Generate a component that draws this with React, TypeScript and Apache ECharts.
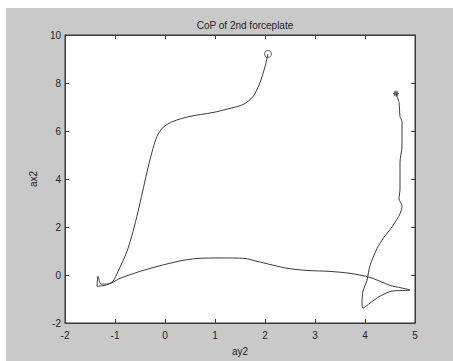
import React, { useEffect, useRef } from "react";
import * as echarts from "echarts";

const titleText = "CoP of 2nd forceplate";
const xName = "ay2";
const yName = "ax2";

const xs = [
  2.06, 2.0, 1.9, 1.76, 1.56, 1.3, 0.96, 0.5, 0.16, -0.04, -0.16, -0.26, -0.36, -0.45, -0.54, -0.64,
  -0.76, -0.94, -1.04, -1.2, -1.36, -1.34, -1.28, -1.14, -0.9, -0.44, 0.0, 0.36, 0.64, 1.1, 1.6,
  1.84, 2.44, 2.84, 3.3, 3.7, 4.1, 4.5, 4.9, 4.54, 4.3, 4.1, 3.96, 3.94, 3.96, 4.04, 4.1, 4.24,
  4.36, 4.56, 4.7, 4.74, 4.68, 4.7, 4.7, 4.74, 4.74, 4.7, 4.68, 4.62,
];
const ys = [
  9.21, 8.68, 8.01, 7.43, 7.1, 6.94, 6.77, 6.61, 6.4, 6.15, 5.78, 5.12, 4.29, 3.46, 2.64, 1.81,
  0.98, 0.15, -0.26, -0.43, -0.47, -0.05, -0.38, -0.38, -0.14, 0.19, 0.44, 0.61, 0.69, 0.71, 0.69,
  0.57, 0.28, 0.19, 0.15, 0.07, -0.1, -0.43, -0.63, -0.67, -0.88, -1.17, -1.38, -1.17, -0.67, -0.22,
  0.4, 1.1, 1.52, 2.06, 2.55, 2.88, 3.17, 3.59, 4.7, 5.37, 6.4, 6.61, 7.19, 7.56,
];
const xRange = [-2, 5];
const yRange = [-2, 10];

const FONT = "'Liberation Sans', Arial, sans-serif";
const AXIS = "#3a3a3a";
const TEXT = "#222";
const LINE = "#3a3a3a";

export default function App() {
  const ref = useRef<HTMLDivElement>(null);
  useEffect(() => {
    document.body.style.margin = "0";
    if (!ref.current) return;
    const chart = echarts.init(ref.current, undefined, { renderer: "svg" });
    const pts = xs.map((x, i) => [x, ys[i]]);
    const baseX = {
      type: "value" as const,
      min: xRange[0],
      max: xRange[1],
      interval: 1,
      splitLine: { show: false },
      axisLine: { show: true, onZero: false, lineStyle: { color: AXIS, width: 1 } },
      axisTick: { show: true, inside: true, length: 4, lineStyle: { color: AXIS } },
    };
    const baseY = {
      type: "value" as const,
      min: yRange[0],
      max: yRange[1],
      interval: 2,
      splitLine: { show: false },
      axisLine: { show: true, onZero: false, lineStyle: { color: AXIS, width: 1 } },
      axisTick: { show: true, inside: true, length: 4, lineStyle: { color: AXIS } },
    };
    chart.setOption({
      animation: false,
      backgroundColor: "transparent",
      textStyle: { fontFamily: FONT },
      title: {
        text: titleText,
        left: 240,
        top: 15,
        textAlign: "center",
        textStyle: { fontSize: 10, fontWeight: "normal", color: TEXT, fontFamily: FONT },
      },
      grid: {
        left: 65,
        top: 35,
        width: 350,
        height: 290,
        show: true,
        backgroundColor: "#ffffff",
        borderColor: AXIS,
        borderWidth: 1,
      },
      xAxis: [
        {
          ...baseX,
          position: "bottom",
          name: xName,
          nameLocation: "middle",
          nameGap: 23,
          nameTextStyle: { fontSize: 10, color: TEXT, fontFamily: FONT },
          axisLabel: { fontSize: 10, color: TEXT, margin: 7, fontFamily: FONT },
        },
        { ...baseX, position: "top", axisLabel: { show: false } },
      ],
      yAxis: [
        {
          ...baseY,
          position: "left",
          name: yName,
          nameLocation: "middle",
          nameGap: 16,
          nameTextStyle: { fontSize: 10, color: TEXT, fontFamily: FONT },
          axisLabel: { fontSize: 10, color: TEXT, margin: 4, fontFamily: FONT },
        },
        { ...baseY, position: "right", axisLabel: { show: false } },
      ],
      series: [
        {
          type: "line",
          data: pts,
          showSymbol: false,
          smooth: 0.25,
          lineStyle: { color: LINE, width: 1 },
          silent: true,
        },
        {
          type: "scatter",
          data: [pts[0]],
          symbol: "circle",
          symbolSize: 7,
          itemStyle: { color: "none", borderColor: LINE, borderWidth: 1 },
          silent: true,
        },
        {
          type: "scatter",
          data: [pts[pts.length - 1]],
          symbol:
            "path://M0,-1L0,1M-1,0L1,0M-0.7,-0.7L0.7,0.7M-0.7,0.7L0.7,-0.7",
          symbolSize: 6,
          itemStyle: { color: "none", borderColor: LINE, borderWidth: 1.2 },
          silent: true,
        },
      ],
    });
    return () => chart.dispose();
  }, []);
  return (
    <div style={{ position: "relative", width: 453, height: 361, background: "#ffffff", overflow: "hidden" }}>
      <div
        style={{ position: "absolute", left: 6, top: 8, right: 0, bottom: 0, background: "#c9c9c9" }}
      />
      <div ref={ref} style={{ position: "absolute", left: 0, top: 0, width: 453, height: 361 }} />
    </div>
  );
}
